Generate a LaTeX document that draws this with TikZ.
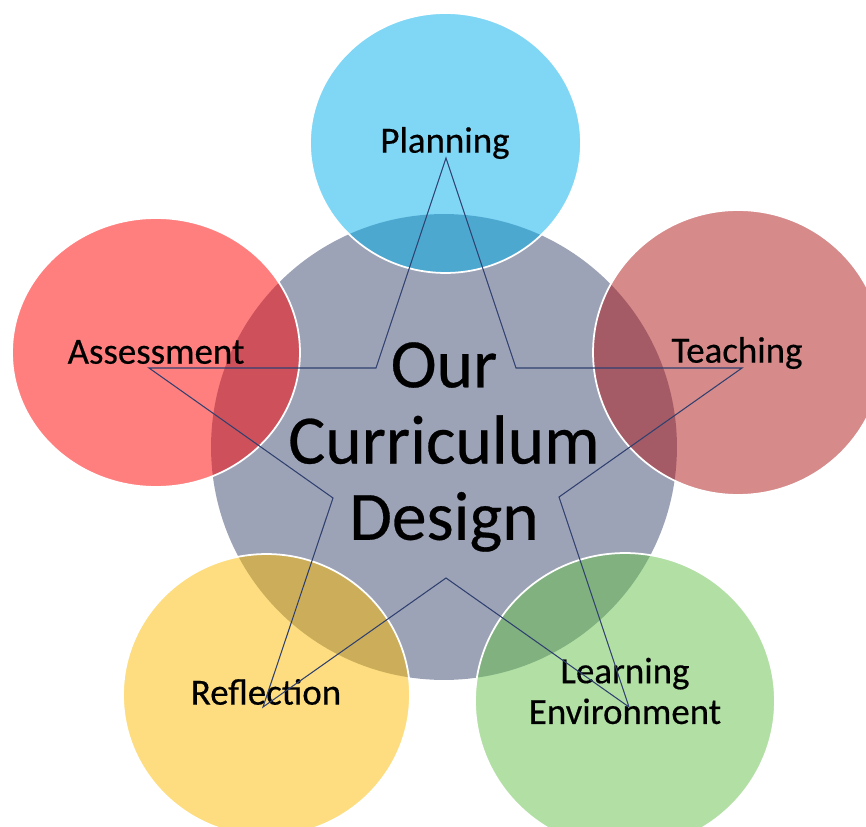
\documentclass[tikz,border=0pt]{standalone}
\usepackage{fontspec}
\setmainfont{Carlito}
\newfontfamily\labelfont{Carlito}[FakeBold=0.4]
\usetikzlibrary{shapes.geometric}
\definecolor{hubcol}{RGB}{59,71,109}
\definecolor{plancol}{RGB}{0,173,235}
\definecolor{teachcol}{RGB}{173,21,21}
\definecolor{assesscol}{RGB}{255,0,0}
\definecolor{reflcol}{RGB}{251,187,0}
\definecolor{learncol}{RGB}{101,191,73}
\definecolor{starcol}{RGB}{47,64,112}
\begin{document}
\begin{tikzpicture}[x=0.02cm,y=-0.02cm]
        \tikzstyle{hub}=[circle,fill=hubcol,fill opacity=0.5,text opacity=1,minimum size=9.32cm,inner sep=0pt,font=\labelfont\fontsize{39.5}{43.4}\selectfont,align=center]
        \tikzstyle{phase}=[ellipse,draw=white,line width=1pt,fill opacity=0.5,inner sep=0pt]
        \tikzstyle{tag}=[inner sep=0pt,font=\labelfont\fontsize{21}{23.2}\selectfont,align=center]
        \tikzstyle{edge}=[draw=starcol,line width=0.6pt]
       \useasboundingbox (0,0) rectangle (866,827);
       \clip (0,0) rectangle (866,827);
       \begin{scope}
         \node [hub] (hub) at (444,447) {Our\\Curriculum\\Design};
         \node [phase,fill=plancol,minimum width=5.42cm,minimum height=5.2cm] (plan) at (445.5,143) {};
         \node [phase,fill=teachcol,minimum width=5.8cm,minimum height=5.7cm] (teach) at (738,352.5) {};
         \node [phase,fill=learncol,minimum width=6cm,minimum height=5.92cm] (learn) at (625,701) {};
         \node [phase,fill=reflcol,minimum width=5.74cm,minimum height=5.64cm] (refl) at (266.5,695) {};
         \node [phase,fill=assesscol,minimum width=5.76cm,minimum height=5.38cm] (assess) at (156,352.5) {};
         \node [tag] (planTag) at (445,143) {Planning};
         \node [tag] (teachTag) at (737,353) {Teaching};
         \node [tag] (learnTag) at (625,691) {Learning\\Environment};
         \node [tag] (reflTag) at (266,692) {Reflection};
         \node [tag] (assessTag) at (156,352) {Assessment};
       \end{scope}
       \begin{scope}
         \coordinate (sPlan) at (446,158);
         \coordinate (sTeach) at (742,368);
         \coordinate (sLearn) at (629,707);
         \coordinate (sRefl) at (263,707);
         \coordinate (sAssess) at (149,368);
         \coordinate (sRU) at (516,368);
         \coordinate (sRL) at (559,497);
         \coordinate (sBot) at (446,578);
         \coordinate (sLL) at (333,498);
         \coordinate (sLU) at (376,368);
         \path[edge] (sPlan) -- (sRU) -- (sTeach) -- (sRL) -- (sLearn) -- (sBot) -- (sRefl) -- (sLL) -- (sAssess) -- (sLU) -- cycle;
       \end{scope}
      \end{tikzpicture}
\end{document}
